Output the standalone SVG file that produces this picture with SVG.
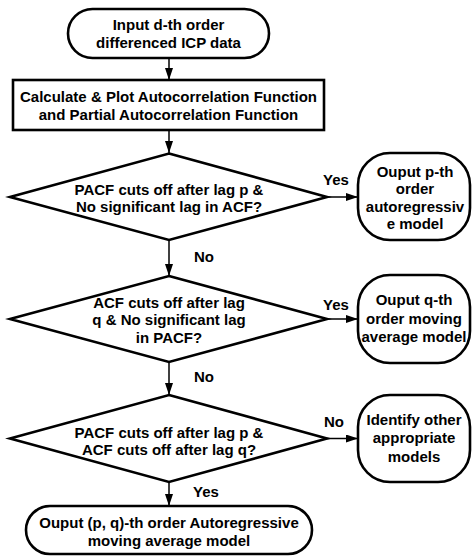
<svg xmlns="http://www.w3.org/2000/svg" width="472" height="556" viewBox="0 0 472 556">
<style>
.s{fill:#fff;stroke:#000;stroke-width:2.6}
.t{font-family:"Liberation Sans",Arial,sans-serif;font-weight:bold;font-size:15px;fill:#000;text-anchor:middle}
.c{stroke:#000;stroke-width:1.5;fill:none}
</style>
<defs>
<marker id="ah" markerUnits="userSpaceOnUse" markerWidth="12" markerHeight="8" refX="12" refY="4" orient="auto">
<path d="M0,0 L12,4 L0,8 z" fill="#000"/>
</marker>
</defs>
<rect width="472" height="556" fill="#fff"/>
<g id="connectors">
<line class="c" x1="169" y1="58" x2="169" y2="80" marker-end="url(#ah)"/>
<line class="c" x1="169" y1="130" x2="169" y2="153" marker-end="url(#ah)"/>
<line class="c" x1="169" y1="240" x2="169" y2="276" marker-end="url(#ah)"/>
<line class="c" x1="169" y1="362" x2="169" y2="395" marker-end="url(#ah)"/>
<line class="c" x1="169" y1="482" x2="169" y2="506" marker-end="url(#ah)"/>
<line class="c" x1="327" y1="197" x2="358" y2="197" marker-end="url(#ah)"/>
<line class="c" x1="327" y1="319" x2="358" y2="319" marker-end="url(#ah)"/>
<line class="c" x1="327" y1="438.5" x2="358" y2="438.5" marker-end="url(#ah)"/>
<text class="t" x="336" y="185">Yes</text>
<text class="t" x="204" y="262">No</text>
<text class="t" x="336" y="310">Yes</text>
<text class="t" x="204" y="382">No</text>
<text class="t" x="334" y="427">No</text>
<text class="t" x="206" y="497">Yes</text>
</g>
<g id="start">
<rect class="s" x="68" y="9" width="201" height="49" rx="24.5" ry="24.5"/>
<text class="t" x="168.5" y="30">Input d-th order</text>
<text class="t" x="168.5" y="48">differenced ICP data</text>
</g>
<g id="calc">
<rect class="s" x="13" y="80" width="311" height="50"/>
<text class="t" x="168.5" y="102">Calculate &amp; Plot Autocorrelation Function</text>
<text class="t" x="168.5" y="119.5">and Partial Autocorrelation Function</text>
</g>
<g id="d1">
<polygon class="s" points="169,153.5 327,197 169,240 10,197"/>
<text class="t" x="169" y="194.5">PACF cuts off after lag p &amp;</text>
<text class="t" x="169" y="211.5">No significant lag in ACF?</text>
</g>
<g id="ar">
<rect class="s" x="358" y="153" width="112" height="87" rx="32" ry="32"/>
<text class="t" x="415" y="177">Ouput p-th</text>
<text class="t" x="415" y="194">order</text>
<text class="t" x="415" y="211.5">autoregressiv</text>
<text class="t" x="415" y="228.5">e model</text>
</g>
<g id="d2">
<polygon class="s" points="169,276 327,319 169,362 10,319"/>
<text class="t" x="169" y="307.5">ACF cuts off after lag</text>
<text class="t" x="169" y="325">q &amp; No significant lag</text>
<text class="t" x="169" y="342.5">in PACF?</text>
</g>
<g id="ma">
<rect class="s" x="358" y="275" width="112" height="88" rx="32" ry="32"/>
<text class="t" x="414" y="305">Ouput q-th</text>
<text class="t" x="414" y="323.5">order moving</text>
<text class="t" x="414" y="342">average model</text>
</g>
<g id="d3">
<polygon class="s" points="169,395 327,438.5 169,482 10,438.5"/>
<text class="t" x="169" y="437.5">PACF cuts off after lag p &amp;</text>
<text class="t" x="169" y="454.5">ACF cuts off after lag q?</text>
</g>
<g id="other">
<rect class="s" x="358" y="395" width="112" height="87" rx="32" ry="32"/>
<text class="t" x="414" y="424.5">Identify other</text>
<text class="t" x="414" y="443">appropriate</text>
<text class="t" x="414" y="461.5">models</text>
</g>
<g id="arma">
<rect class="s" x="26" y="506" width="286" height="48" rx="24" ry="24"/>
<text class="t" x="169" y="528">Ouput (p, q)-th order Autoregressive</text>
<text class="t" x="169" y="545.5">moving average model</text>
</g>
</svg>
